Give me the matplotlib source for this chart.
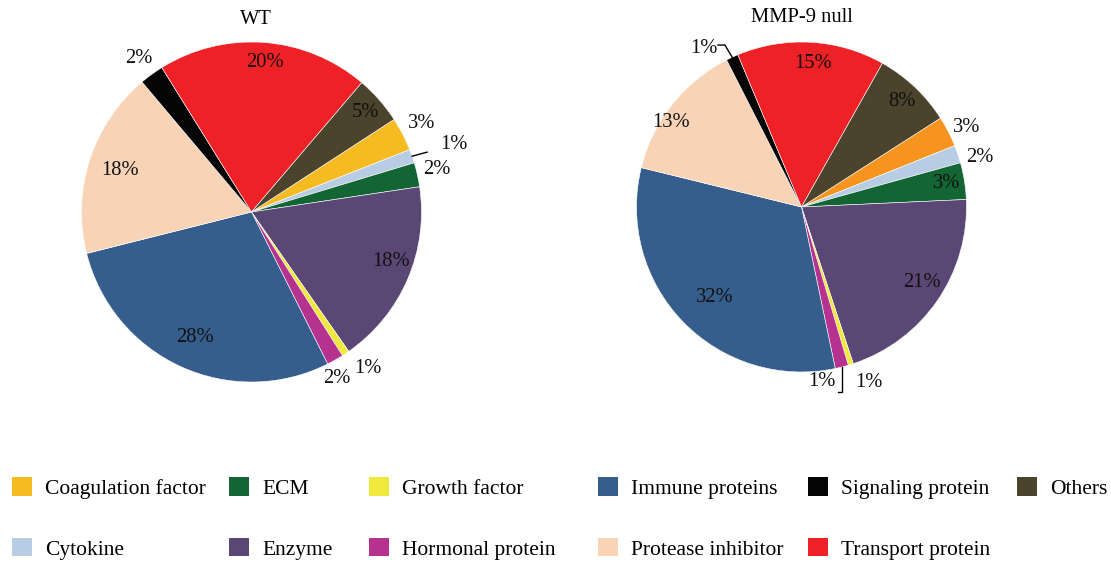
import numpy as np
import matplotlib
matplotlib.use("Agg")
import matplotlib.pyplot as plt
from matplotlib.patches import Patch

plt.rcParams['font.family'] = ['Liberation Serif', 'DejaVu Serif']

# ---------------- data ----------------
categories = ["Coagulation factor", "Cytokine", "ECM", "Enzyme", "Growth factor",
              "Hormonal protein", "Immune proteins", "Protease inhibitor",
              "Signaling protein", "Transport protein", "Others"]

wt_values = [3.2, 1.3, 2.3, 17.7, 0.7, 1.6, 28.5, 17.8, 2.3, 20.1, 4.6]
wt_labels = ["3%", "1%", "2%", "18%", "1%", "2%", "28%", "18%", "2%", "20%", "5%"]

null_values = [3.0, 1.75, 3.6, 20.7, 0.5, 1.3, 32.2, 13.7, 1.2, 14.5, 7.8]
null_labels = ["3%", "2%", "3%", "21%", "1%", "1%", "32%", "13%", "1%", "15%", "8%"]

titles = ["WT", "MMP-9 null"]

# ---------------- styles ----------------
colors_common = ["#F6BB21", "#B8CCE4", "#146534", "#5B4776", "#EEE93A",
                 "#B5338F", "#355E8C", "#F9D3B5", "#050505", "#EE2127", "#4B432C"]
colors_wt = list(colors_common)
colors_null = list(colors_common)
colors_null[0] = "#F7941D"

W, H = 1111, 562
fig = plt.figure(figsize=(W / 100, H / 100), dpi=100)

FS = 14.8
LFS = 15.5

def make_axes(cx, cy, r):
    ax = fig.add_axes([(cx - r) / W, (H - cy - r) / H, 2 * r / W, 2 * r / H])
    ax.set_xlim(-1, 1)
    ax.set_ylim(-1, 1)
    ax.set_aspect('equal')
    ax.axis('off')
    return ax

def pol(ang, r):
    a = np.deg2rad(ang)
    return r * np.cos(a), r * np.sin(a)

def draw_pie(ax, values, colors, labels, startangle, place, leaders):
    wedges, _ = ax.pie(values, colors=colors, startangle=startangle, counterclock=False,
                       radius=1.0, center=(0, 0), frame=False,
                       wedgeprops=dict(edgecolor='white', linewidth=0.4))
    ax.set_xlim(-1, 1)
    ax.set_ylim(-1, 1)
    for i, w in enumerate(wedges):
        mid = (w.theta1 + w.theta2) / 2.0
        if i in leaders:
            d1, d2, tofs, ha = leaders[i]
            x0, y0 = pol(mid, 1.0)
            x1, y1 = x0 + d1[0], y0 + d1[1]
            x2, y2 = x1 + d2[0], y1 + d2[1]
            ax.plot([x0, x1, x2], [y0, y1, y2], color='black', lw=1.0,
                    clip_on=False, solid_joinstyle='miter')
            ax.text(x2 + tofs[0], y2 + tofs[1], labels[i], ha=ha, va='center',
                    fontsize=FS, color='#111111')
        else:
            r, off = place[i]
            x, y = pol(mid + off, r)
            ax.text(x, y, labels[i], ha='center', va='center', fontsize=FS,
                    color='#111111')

# label placement: index -> (radius factor, angle offset)
wt_place = {0: (1.13, 0.3), 2: (1.12, 0.1), 3: (0.87, 3.7), 4: (1.15, 3.0),
            5: (1.10, -2.2), 6: (0.81, 0.3), 7: (0.81, 0.2), 8: (1.12, 0.4),
            9: (0.88, -0.8), 10: (0.89, 0.0)}
wt_leaders = {1: ((0.088, 0.024), (0.0, 0.0), (0.075, 0.045), 'left')}

null_place = {0: (1.11, -1.4), 1: (1.12, -3.2), 2: (0.89, 0.2), 3: (0.86, 2.5),
              4: (1.14, 3.5), 6: (0.76, 2.1), 7: (0.94, 5.4), 9: (0.875, -1.2),
              10: (0.88, -0.2)}
null_leaders = {5: ((0.0, -0.15), (-0.025, 0.0), (-0.01, 0.06), 'right'),
                8: ((-0.044, 0.074), (-0.042, 0.0), (-0.004, -0.02), 'right')}

ax1 = make_axes(251.5, 212, 170)
draw_pie(ax1, wt_values, colors_wt, wt_labels, 33, wt_place, wt_leaders)
fig.text(256 / W, 1 - 19 / H, titles[0], ha='center', va='center', fontsize=FS)

ax2 = make_axes(801.5, 207, 165)
draw_pie(ax2, null_values, colors_null, null_labels, 32.6, null_place, null_leaders)
fig.text(802 / W, 1 - 18 / H, titles[1], ha='center', va='center', fontsize=FS)

# ---------------- legend (one block per column) ----------------
col_x = [12, 229, 369, 598, 808, 1017]
for k, x in enumerate(col_x):
    idx = list(range(2 * k, min(2 * k + 2, len(categories))))
    hs = [Patch(facecolor=colors_wt[i], edgecolor='none') for i in idx]
    ls = [categories[i] for i in idx]
    lg = fig.legend(hs, ls, loc='upper left', bbox_to_anchor=(x / W, 1 - 477 / H),
                    frameon=False, fontsize=LFS, handlelength=0.95, handleheight=0.95,
                    handletextpad=0.6, labelspacing=1.82, borderpad=0.0,
                    borderaxespad=0.0)

fig.savefig("out.png", dpi=100)
